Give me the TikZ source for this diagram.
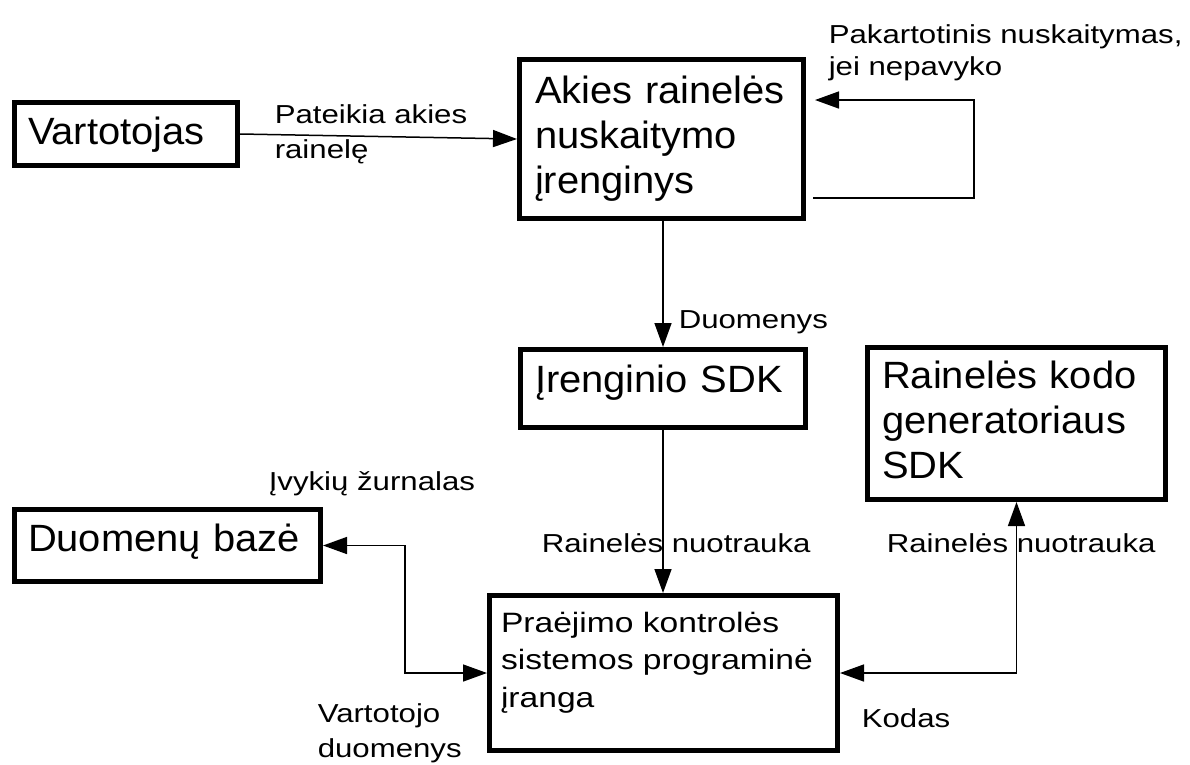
\documentclass[tikz,border=0pt]{standalone}
\usepackage{fontspec}
\setmainfont{Liberation Sans}
\newfontfamily\blokfont{Liberation Sans}[FakeStretch=1.05]
\newfontfamily\zymfont{Liberation Sans}[FakeStretch=1.2]
\usetikzlibrary{arrows.meta}

\tikzset{every picture/.style={line width=1.5pt}}
\tikzset{
	blok/.style={draw, line width=5pt, anchor=north west, inner ysep=0pt, minimum height=0pt, align=left, font=\blokfont\fontsize{38}{45}\selectfont},
	zyma/.style={anchor=base west, inner sep=0pt, align=left, font=\zymfont\fontsize{26}{34}\selectfont},
	rodykle/.style={-{Triangle[length=24pt,width=17pt]}},
	dvipusis/.style={{Triangle[length=24pt,width=17pt]}-{Triangle[length=24pt,width=17pt]}}
}

\begin{document}
\begin{tikzpicture}[x=1pt,y=1pt,yscale=-1,xscale=1]
	\useasboundingbox (0,0) rectangle (1190,764);

	%Shape: Rectangle
	\node [blok, inner xsep=13.5pt, text width=196pt, text height=41.5pt, text depth=21.5pt] (vartotojas) at (12,100) {Vartotojas};
	%Shape: Rectangle
	\node [blok, inner xsep=15.5pt, text width=253pt, text height=43.5pt, text depth=115.5pt] (akies) at (517,57) {Akies~rainelės\\nuskaitymo\\įrenginys};
	%Shape: Rectangle
	\node [blok, inner xsep=14.5pt, text width=256pt, text height=42.5pt, text depth=35.5pt] (irenginys) at (518,347) {Įrenginio~SDK};
	%Shape: Rectangle
	\node [blok, inner xsep=14.5pt, text width=269pt, text height=40.5pt, text depth=111.5pt] (generatorius) at (865,345) {Rainelės~kodo\\generatoriaus\\SDK};
	%Shape: Rectangle
	\node [blok, inner xsep=13.5pt, text width=279pt, text height=41.5pt, text depth=30.5pt] (baze) at (12,507) {Duomenų~bazė};
	%Shape: Rectangle
	\node [blok, font=\zymfont\fontsize{28}{37.5}\selectfont, inner xsep=11.5pt, text width=325pt, text height=36.5pt, text depth=118.5pt] (praejimas) at (487,593) {Praėjimo~kontrolės\\sistemos~programinė\\įranga};

	\coordinate (lusA) at (974,198);
	\coordinate (lusB) at (974,100);
	\coordinate (lenk) at (405,610);

	%Straight Lines
	\draw [rodykle] (vartotojas.east) -- (akies.west);
	%Straight Lines
	\draw [rodykle, shorten <=7pt, shorten >=9pt] (akies.east |- lusA) -- (lusA) -- (lusB) -- (akies.east |- lusB);
	%Straight Lines
	\draw [rodykle] (akies.south -| irenginys.north) -- (irenginys.north);
	%Straight Lines
	\draw [rodykle] (irenginys.south) -- (irenginys.south |- praejimas.north);
	%Straight Lines
	\draw [dvipusis] (baze.east) -| (lenk) |- (praejimas.west);
	%Straight Lines
	\draw [dvipusis] (praejimas.east) -| (generatorius.south);

	% Text Node (base = last line)
	\node [zyma, font=\zymfont\fontsize{26}{35}\selectfont] (pateikia) at (274,158) {Pateikia akies\\rainelę};
	% Text Node
	\node [zyma, font=\zymfont\fontsize{26}{32}\selectfont] (pakartotinis) at (828,75) {Pakartotinis nuskaitymas,\\jei nepavyko};
	% Text Node
	\node [zyma] (duomenys) at (678,328) {Duomenys};
	% Text Node
	\node [zyma] (ivykiai) at (268,490) {Įvykių žurnalas};
	% Text Node
	\node [zyma] (nuotraukaA) at (541,552) {Rainelės nuotrauka};
	% Text Node
	\node [zyma] (nuotraukaB) at (886,552) {Rainelės nuotrauka};
	% Text Node
	\node [zyma, font=\zymfont\fontsize{26}{35}\selectfont] (vartotojo) at (317,757) {Vartotojo\\duomenys};
	% Text Node
	\node [zyma] (kodas) at (861,727) {Kodas};
\end{tikzpicture}
\end{document}
